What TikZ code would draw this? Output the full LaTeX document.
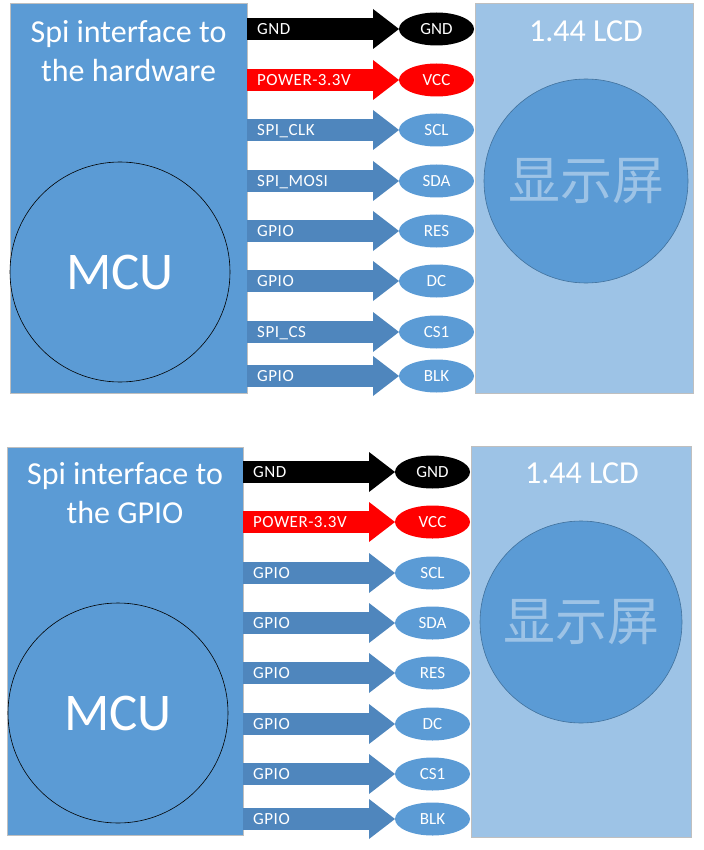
\documentclass[tikz,border=0pt]{standalone}
\usepackage{fontspec}
\setmainfont{Carlito}
\newfontfamily\cjk{Noto Sans CJK SC}
\usetikzlibrary{arrows.meta,shapes.geometric,calc}
\definecolor{mcublue}{HTML}{5B9BD5}
\definecolor{lcdblue}{HTML}{9DC3E6}
\definecolor{arrowblue}{HTML}{4F86BD}
\definecolor{circedge}{HTML}{41719C}
\definecolor{boxedge}{HTML}{BFBFBF}
\begin{document}
\begin{tikzpicture}[x=1pt,y=-1pt,
  panel/.style={draw=boxedge, line width=0.8pt, inner sep=0pt, outer sep=0pt, anchor=north west},
  bigtitle/.style={text=white, font=\fontsize{32}{38.5}\selectfont, align=center, inner sep=0pt},
  chip/.style={circle, draw=#1, line width=0.6pt, fill=mcublue, inner sep=0pt, minimum size=220pt, text=white, font=\fontsize{53}{60}\selectfont},
  pinell/.style={ellipse, fill=#1, inner sep=0pt, outer sep=0pt, minimum width=75pt, minimum height=33pt, text=white, font=\fontsize{17}{20}\selectfont},
  sig/.style={line width=22pt, draw=#1, -{Triangle[width=40pt,length=26pt,line width=0pt,fill=#1]}},
  siglbl/.style={text=white, font=\fontsize{17}{20}\selectfont\addfontfeatures{LetterSpace=3}, anchor=base west, inner sep=0pt}
]
\useasboundingbox (0,0) rectangle (703,850);
\fill[white] (0,0) rectangle (703,850);

% ---------- top diagram ----------
\node[panel, fill=mcublue, minimum width=237pt, minimum height=390pt] (mcuA) at (10,3) {};
\node[panel, fill=lcdblue, minimum width=218pt, minimum height=390pt] (lcdA) at (475,3) {};
\node[bigtitle] (tA) at (128.5,51) {Spi interface to\\the hardware};
\node[chip=black] (cA) at (120,272) {MCU};
\node[bigtitle, anchor=base] (hA) at (586,42) {1.44 LCD};
\node[chip=circedge, minimum size=204pt, text=lcdblue, font=\cjk\fontsize{52}{60}\selectfont] (dA) at (586,181) {显示屏};

\foreach \y/\lab/\pin/\ecol/\acol [count=\i] in {
  29/GND/GND/black/black,
  80/POWER-3.3V/VCC/red/red,
  130/SPI\_CLK/SCL/mcublue/arrowblue,
  181/SPI\_MOSI/SDA/mcublue/arrowblue,
  231/GPIO/RES/mcublue/arrowblue,
  281/GPIO/DC/mcublue/arrowblue,
  332/SPI\_CS/CS1/mcublue/arrowblue,
  376/GPIO/BLK/mcublue/arrowblue}{
  \node[pinell=\ecol] (pA\i) at (436.5,\y) {\pin};
  \draw[sig=\acol] (mcuA.east |- pA\i) -- (pA\i.west);
  \node[siglbl] (lA\i) at ($(mcuA.east |- pA\i)+(10,5.5)$) {\lab};
}

% ---------- bottom diagram ----------
\node[panel, fill=mcublue, minimum width=236pt, minimum height=388pt] (mcuB) at (7,447) {};
\node[panel, fill=lcdblue, minimum width=220pt, minimum height=391pt] (lcdB) at (471,446) {};
\node[bigtitle] (tB) at (125,493) {Spi interface to\\the GPIO};
\node[chip=black] (cB) at (118,713) {MCU};
\node[bigtitle, anchor=base] (hB) at (582,483) {1.44 LCD};
\node[chip=circedge, minimum size=202pt, text=lcdblue, font=\cjk\fontsize{52}{60}\selectfont] (dB) at (581,622) {显示屏};

\foreach \y/\lab/\pin/\ecol/\acol [count=\i] in {
  472/GND/GND/black/black,
  522/POWER-3.3V/VCC/red/red,
  573/GPIO/SCL/mcublue/arrowblue,
  623/GPIO/SDA/mcublue/arrowblue,
  673/GPIO/RES/mcublue/arrowblue,
  724/GPIO/DC/mcublue/arrowblue,
  774/GPIO/CS1/mcublue/arrowblue,
  819/GPIO/BLK/mcublue/arrowblue}{
  \node[pinell=\ecol] (pB\i) at (432.5,\y) {\pin};
  \draw[sig=\acol] (mcuB.east |- pB\i) -- (pB\i.west);
  \node[siglbl] (lB\i) at ($(mcuB.east |- pB\i)+(10,5.5)$) {\lab};
}
\end{tikzpicture}
\end{document}
